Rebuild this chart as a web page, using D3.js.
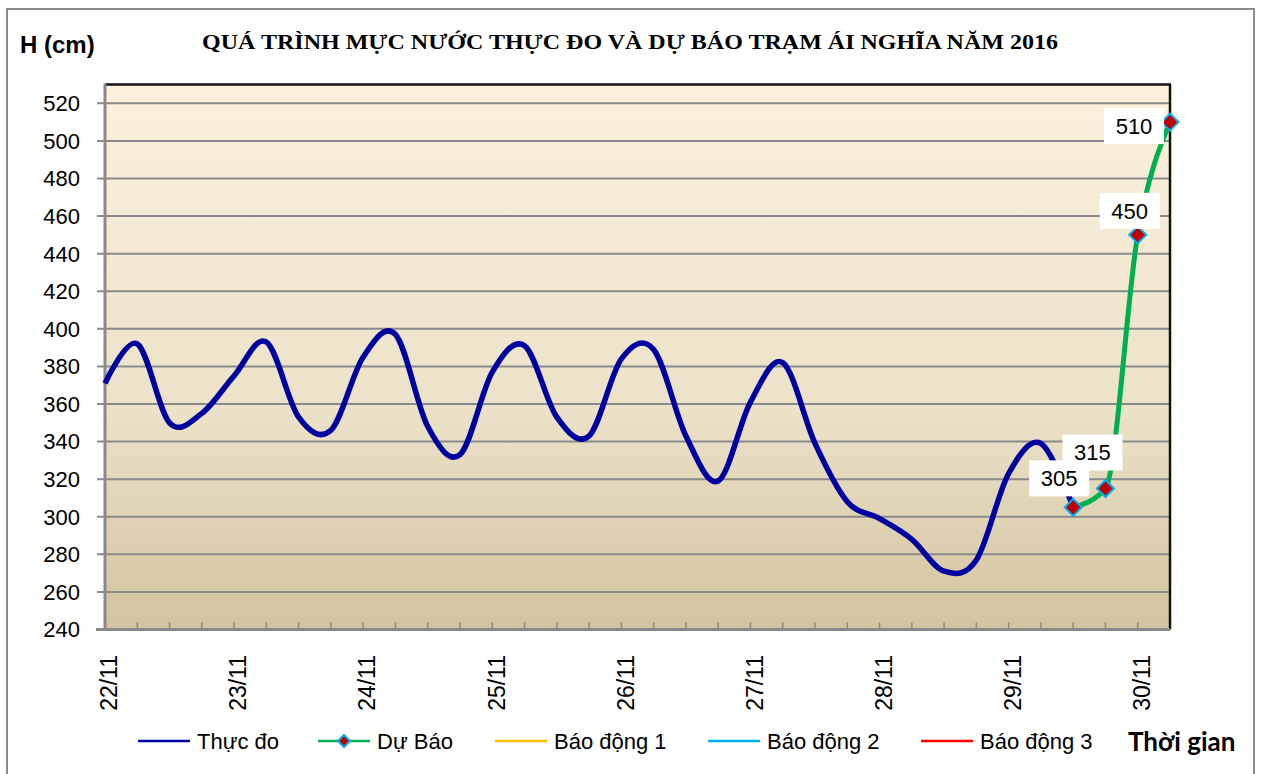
<!DOCTYPE html>
<html>
<head>
<meta charset="utf-8">
<script src="https://cdn.jsdelivr.net/npm/d3@7"></script>
<style>
	body { margin: 0; background: #fff; }
	text { font-family: 'Liberation Sans', Arial, sans-serif; }
</style>
</head>
<body>
<svg id="chart"></svg>
<script>
// data (4 readings per day, 22/11 .. 30/11)

var dayLabels = [ '22/11', '23/11', '24/11', '25/11', '26/11', '27/11', '28/11', '29/11', '30/11' ];

var thucDo = [
	371, 392, 350, 355, 375, 393, 353, 346, 385, 397,
	348, 333, 377, 391, 353, 343, 384, 389, 343, 319,
	361, 382, 339, 308, 299, 288, 271, 277, 323, 339,
	305
];

var duBao = [ 305, 315, 450, 510 ];
var duBaoStart = 30;
var nCategories = 34;

var yTicks = [ 240, 260, 280, 300, 320, 340, 360, 380, 400, 420, 440, 460, 480, 500, 520 ];

var legendItems = [
	{ name: 'Thực đo', color: '#0000a0', marker: false },
	{ name: 'Dự Báo', color: '#00b050', marker: true },
	{ name: 'Báo động 1', color: '#ffc000', marker: false },
	{ name: 'Báo động 2', color: '#00b0f0', marker: false },
	{ name: 'Báo động 3', color: '#ff0000', marker: false }
];

// label boxes sit a little off their points
var labelOffsets = [ [ -14, -29 ], [ -13, -36 ], [ -8, -24 ], [ -36, 4 ] ];

let svg = d3.select('#chart').attr('width', 1262).attr('height', 774);

let pLeft = 105, pRight = 1170, pTop = 84.5, pBottom = 629.5;

let x = d3.scaleLinear().domain([ 0, nCategories - 1 ]).range([ pLeft, pRight ]);
let y = d3.scaleLinear().domain([ 240, 530 ]).range([ pBottom, pTop ]);

// background + outer frame
svg.append('rect').attr('width', 1262).attr('height', 774).attr('fill', '#fff');
svg
	.append('rect')
	.attr('x', 7)
	.attr('y', 9)
	.attr('width', 1247)
	.attr('height', 800)
	.attr('fill', 'none')
	.attr('stroke', '#8c8c8c')
	.attr('stroke-width', 2);

let grad = svg
	.append('defs')
	.append('linearGradient')
	.attr('id', 'plotBg')
	.attr('x1', 0)
	.attr('y1', 0)
	.attr('x2', 0)
	.attr('y2', 1);
grad.append('stop').attr('offset', '0%').attr('stop-color', '#fdf1de');
grad.append('stop').attr('offset', '60%').attr('stop-color', '#ebe2c9');
grad.append('stop').attr('offset', '100%').attr('stop-color', '#d3c49f');

svg
	.append('rect')
	.attr('x', pLeft)
	.attr('y', pTop)
	.attr('width', pRight - pLeft)
	.attr('height', pBottom - pTop)
	.attr('fill', 'url(#plotBg)');

// gridlines
svg
	.selectAll('.grid')
	.data(yTicks.filter((d) => d > 240))
	.enter()
	.append('line')
	.attr('class', 'grid')
	.attr('x1', pLeft - 8)
	.attr('x2', pRight)
	.attr('y1', (d) => y(d))
	.attr('y2', (d) => y(d))
	.attr('stroke', '#8a8a8a')
	.attr('stroke-width', 2);

// y axis labels
svg
	.selectAll('.ylab')
	.data(yTicks)
	.enter()
	.append('text')
	.attr('class', 'ylab')
	.attr('x', 80)
	.attr('y', (d) => y(d))
	.attr('dy', '0.36em')
	.attr('text-anchor', 'end')
	.style('font-size', '22px')
	.text((d) => d);

// x tick marks (inside) and day labels
svg
	.selectAll('.xtick')
	.data(d3.range(1, nCategories - 1))
	.enter()
	.append('line')
	.attr('class', 'xtick')
	.attr('x1', (d) => x(d))
	.attr('x2', (d) => x(d))
	.attr('y1', pBottom)
	.attr('y2', pBottom - 7)
	.attr('stroke', '#8a8a8a')
	.attr('stroke-width', 1.5);

svg
	.selectAll('.xlab')
	.data(dayLabels)
	.enter()
	.append('text')
	.attr('class', 'xlab')
	.attr('transform', (d, i) => 'translate(' + (x(i * 4) + 4) + ',' + 655 + ') rotate(-90)')
	.attr('dy', '0.36em')
	.attr('text-anchor', 'end')
	.style('font-size', '23px')
	.text((d) => d);

// frame of the plot area
svg.append('line').attr('x1', pLeft).attr('x2', pRight + 1).attr('y1', pTop).attr('y2', pTop).attr('stroke', '#111').attr('stroke-width', 2.5);
svg.append('line').attr('x1', pRight).attr('x2', pRight).attr('y1', pTop).attr('y2', pBottom).attr('stroke', '#111').attr('stroke-width', 2.5);
svg.append('line').attr('x1', pLeft).attr('x2', pLeft).attr('y1', pTop - 1).attr('y2', pBottom).attr('stroke', '#8a8a8a').attr('stroke-width', 3);
svg.append('line').attr('x1', pLeft - 9).attr('x2', pRight).attr('y1', pBottom).attr('y2', pBottom).attr('stroke', '#8a8a8a').attr('stroke-width', 3);

// lines
var lineFunction = d3.line().x((d) => x(d[0])).y((d) => y(d[1])).curve(d3.curveCardinal.tension(0));
var forecastLine = d3.line().x((d) => x(d[0])).y((d) => y(d[1])).curve(d3.curveMonotoneX);

svg
	.append('path')
	.attr('d', lineFunction(thucDo.map((v, i) => [ i, v ])))
	.attr('fill', 'none')
	.attr('stroke', '#0000a0')
	.attr('stroke-width', 5.5)
	.attr('stroke-linejoin', 'round');

let duBaoPts = duBao.map((v, i) => [ duBaoStart + i, v ]);

svg
	.append('path')
	.attr('d', forecastLine(duBaoPts))
	.attr('fill', 'none')
	.attr('stroke', '#00b050')
	.attr('stroke-width', 5)
	.attr('stroke-linejoin', 'round');

// diamond markers
let diamond = 'M0,-8.5 L8.5,0 L0,8.5 L-8.5,0 Z';

svg
	.selectAll('.mark')
	.data(duBaoPts)
	.enter()
	.append('path')
	.attr('class', 'mark')
	.attr('d', diamond)
	.attr('transform', (d) => 'translate(' + x(d[0]) + ',' + y(d[1]) + ')')
	.attr('fill', '#c00000')
	.attr('stroke', '#00b0f0')
	.attr('stroke-width', 2);

// data labels
let labels = svg
	.selectAll('.dlab')
	.data(duBaoPts)
	.enter()
	.append('g')
	.attr('class', 'dlab')
	.attr('transform', (d, i) => 'translate(' + (x(d[0]) + labelOffsets[i][0]) + ',' + (y(d[1]) + labelOffsets[i][1]) + ')');

labels.append('rect').attr('x', -30).attr('y', -18).attr('width', 60).attr('height', 36).attr('fill', '#fff');
labels
	.append('text')
	.attr('text-anchor', 'middle')
	.attr('dy', '0.36em')
	.style('font-size', '22px')
	.text((d) => d[1]);

// titles
svg
	.append('text')
	.attr('x', 630)
	.attr('y', 49)
	.attr('text-anchor', 'middle')
	.attr('textLength', 856)
	.attr('lengthAdjust', 'spacingAndGlyphs')
	.style('font-family', "'Liberation Serif', 'Times New Roman', serif")
	.style('font-weight', 'bold')
	.style('font-size', '21px')
	.text('QUÁ TRÌNH MỰC NƯỚC THỰC ĐO VÀ DỰ BÁO TRẠM ÁI NGHĨA NĂM 2016');

svg
	.append('text')
	.attr('x', 20)
	.attr('y', 53)
	.style('font-weight', 'bold')
	.style('font-size', '24px')
	.text('H (cm)');

// legend
let legendX = [ 138, 318, 495, 708, 921 ];

let legend = svg
	.selectAll('.leg')
	.data(legendItems)
	.enter()
	.append('g')
	.attr('class', 'leg')
	.attr('transform', (d, i) => 'translate(' + legendX[i] + ',741)');

legend.append('line').attr('x1', 0).attr('x2', 52).attr('stroke', (d) => d.color).attr('stroke-width', 2.5);

legend
	.filter((d) => d.marker)
	.append('path')
	.attr('d', 'M0,-6 L6,0 L0,6 L-6,0 Z')
	.attr('transform', 'translate(26,0)')
	.attr('fill', '#c00000')
	.attr('stroke', '#00b0f0')
	.attr('stroke-width', 2);

legend
	.append('text')
	.attr('x', 59)
	.attr('dy', '0.36em')
	.style('font-size', '22px')
	.text((d) => d.name);

svg
	.append('text')
	.attr('x', 1128)
	.attr('y', 751)
	.style('font-family', "Lato, 'Open Sans', sans-serif")
	.style('font-weight', 'bold')
	.style('font-size', '26px')
	.text('Thời gian');
</script>
</body>
</html>
